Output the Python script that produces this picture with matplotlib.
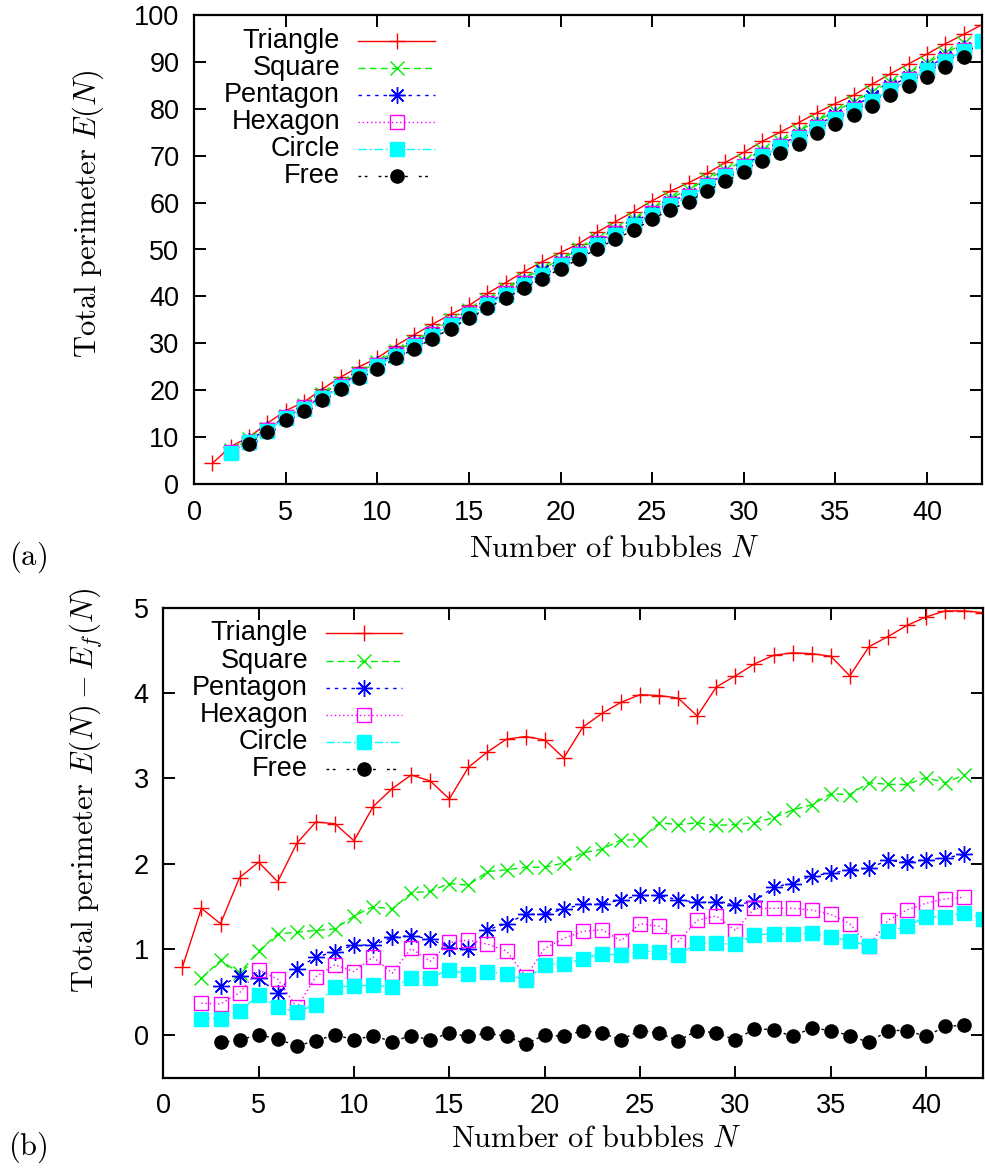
import numpy as np
import matplotlib
matplotlib.use("Agg")
import matplotlib.pyplot as plt

# E_f(N): reference perimeter, N = 1..43
N_ALL = list(range(1, 44))
EF_TOP = [3.6, 6.5, 8.7, 11.1, 13.6, 15.7, 18.0, 20.3, 22.5, 24.6, 26.8,
          28.9, 31.0, 33.2, 35.3, 37.5, 39.6, 41.8, 43.9, 45.9, 48.0, 50.1,
          52.2, 54.2, 56.4, 58.5, 60.3, 62.5, 64.5, 66.5, 68.7, 70.6, 72.6,
          74.7, 76.7, 78.7, 80.7, 82.8, 84.8, 86.8, 88.9, 90.9, 93.0]

# E(N) - E_f(N)
N_TRI = list(range(1, 44))
TRI = [0.79, 1.48, 1.30, 1.84, 2.02, 1.79, 2.24, 2.49, 2.47, 2.27, 2.67,
       2.88, 3.04, 2.97, 2.76, 3.13, 3.31, 3.46, 3.49, 3.45, 3.24, 3.60,
       3.76, 3.89, 3.98, 3.97, 3.94, 3.73, 4.07, 4.20, 4.34, 4.44, 4.47,
       4.46, 4.43, 4.20, 4.54, 4.66, 4.79, 4.89, 4.96, 4.96, 4.94]

N_SQU = list(range(2, 43))
SQU = [0.66, 0.87, 0.72, 0.98, 1.18, 1.20, 1.22, 1.24, 1.39, 1.50, 1.47,
       1.66, 1.68, 1.77, 1.75, 1.91, 1.93, 1.96, 1.96, 2.01, 2.13, 2.17,
       2.28, 2.28, 2.48, 2.46, 2.48, 2.45, 2.46, 2.48, 2.54, 2.63, 2.69,
       2.82, 2.81, 2.95, 2.93, 2.93, 3.01, 2.95, 3.04]

N_PEN = list(range(3, 43))
PEN = [0.57, 0.69, 0.66, 0.49, 0.77, 0.91, 0.97, 1.05, 1.05, 1.14, 1.16,
       1.12, 1.02, 1.00, 1.23, 1.30, 1.41, 1.41, 1.47, 1.53, 1.53, 1.58,
       1.63, 1.63, 1.58, 1.55, 1.55, 1.52, 1.56, 1.73, 1.77, 1.86, 1.89,
       1.93, 1.95, 2.04, 2.02, 2.05, 2.07, 2.11]

N_HEX = list(range(2, 43))
HEX = [0.37, 0.36, 0.49, 0.76, 0.65, 0.32, 0.68, 0.82, 0.74, 0.91, 0.72,
       1.01, 0.86, 1.08, 1.11, 1.06, 0.98, 0.68, 1.01, 1.13, 1.21, 1.23,
       1.10, 1.30, 1.27, 1.09, 1.34, 1.39, 1.22, 1.48, 1.48, 1.48, 1.46,
       1.41, 1.30, 1.04, 1.34, 1.46, 1.54, 1.59, 1.61]

N_CIR = list(range(2, 44))
CIR = [0.19, 0.19, 0.28, 0.46, 0.32, 0.27, 0.35, 0.56, 0.57, 0.58, 0.56,
       0.66, 0.67, 0.76, 0.71, 0.74, 0.71, 0.64, 0.82, 0.83, 0.89, 0.95,
       0.93, 0.98, 0.97, 0.93, 1.07, 1.07, 1.06, 1.17, 1.18, 1.18, 1.19,
       1.15, 1.10, 1.04, 1.21, 1.27, 1.38, 1.38, 1.43, 1.36]

N_FREE = list(range(3, 43))
FREE = [-0.09, -0.06, 0.00, -0.05, -0.13, -0.07, 0.00, -0.06, -0.01, -0.08,
        -0.01, -0.06, 0.02, -0.02, 0.02, -0.02, -0.11, 0.00, -0.02, 0.05,
        0.02, -0.06, 0.05, 0.02, -0.07, 0.05, 0.02, -0.06, 0.07, 0.06,
        -0.02, 0.08, 0.05, -0.01, -0.09, 0.05, 0.05, -0.02, 0.10, 0.11]

LABELS = ["Triangle", "Square", "Pentagon", "Hexagon", "Circle", "Free"]

plt.rcParams["mathtext.fontset"] = "cm"
plt.rcParams["font.family"] = ["Liberation Sans", "DejaVu Sans"]
plt.rcParams["lines.scale_dashes"] = False

W, H = 985, 1168
SANS = 19.5
LAB = 22

# line style, marker, colour per series (gnuplot look)
STYLES = [
    dict(color="#ff0000", ls="-", marker="+", ms=12, mew=1.0, mfc="none"),
    dict(color="#00ee00", ls=(0, (5, 3)), marker="x", ms=10, mew=1.0, mfc="none"),
    dict(color="#0000ff", ls=(0, (2.5, 3.5)), marker=(8, 2, 0), ms=12, mew=1.0, mfc="none"),
    dict(color="#ff00ff", ls=(0, (1, 2)), marker="s", ms=9.5, mew=1.0, mfc="none"),
    dict(color="#00ffff", ls=(0, (6, 2.2, 1.2, 2.2)), marker="s", ms=10.5, mew=1.0, mfc="#00ffff"),
    dict(color="#000000", ls=(0, (2, 2.5, 2, 8)), marker="o", ms=9.5, mew=1.0, mfc="#000000"),
]


def px_to_fig(x, y):
    return x / W, 1 - y / H


def draw(ax, xs, ys, st):
    ax.plot(xs, ys, color=st["color"], linestyle=st["ls"], linewidth=1.0,
            marker=st["marker"], markersize=st["ms"], markeredgewidth=st["mew"],
            markerfacecolor=st["mfc"], markeredgecolor=st["color"])


def legend(fig, x_text, x0, x1, rows):
    for lab, st, y in zip(LABELS, STYLES, rows):
        fx, fy = px_to_fig(x_text, y)
        fig.text(fx, fy, lab, ha="right", va="center", fontsize=SANS)
        a, fy = px_to_fig(x0, y)
        b, _ = px_to_fig(x1, y)
        m, _ = px_to_fig((x0 + x1) / 2, y)
        fig.add_artist(plt.Line2D([a, b], [fy, fy], transform=fig.transFigure,
                                  color=st["color"], linestyle=st["ls"], linewidth=1.0))
        fig.add_artist(plt.Line2D([m], [fy], transform=fig.transFigure,
                                  color=st["color"], linestyle="none", marker=st["marker"],
                                  markersize=st["ms"], markeredgewidth=st["mew"],
                                  markerfacecolor=st["mfc"], markeredgecolor=st["color"]))


def style_axes(ax):
    for s in ax.spines.values():
        s.set_linewidth(1.6)
    ax.tick_params(direction="in", length=8.5, width=1.4, top=True, right=True,
                   labelsize=SANS)
    ax.tick_params(axis="x", pad=11.5)
    ax.tick_params(axis="y", pad=10.5)
    ax.set_xlim(0, 43)
    ax.set_xticks(range(0, 45, 5))


fig = plt.figure(figsize=(W / 100, H / 100), dpi=100)

# panel (a)
ax1 = fig.add_axes([194 / W, 1 - 484 / H, 788 / W, 469 / H])
ef = dict(zip(N_ALL, EF_TOP))
series = [(N_TRI, TRI), (N_SQU, SQU), (N_PEN, PEN), (N_HEX, HEX), (N_CIR, CIR), (N_FREE, FREE)]
for (ns, d), st in zip(series, STYLES):
    draw(ax1, ns, [ef[n] + v for n, v in zip(ns, d)], st)
style_axes(ax1)
ax1.set_ylim(0, 100)
ax1.set_yticks(range(0, 101, 10))
legend(fig, 340, 358, 435, [41, 68, 95, 122, 149, 176])

# panel (b)
ax2 = fig.add_axes([163.3 / W, 1 - 1077.5 / H, 820 / W, 470 / H])
for (ns, d), st in zip(series, STYLES):
    draw(ax2, ns, d, st)
style_axes(ax2)
ax2.set_ylim(-0.5, 5)
ax2.set_yticks(range(0, 6))
legend(fig, 308, 326, 402, [633, 661, 688, 715, 742, 769])

fig.text(*px_to_fig(88, 214), r"$\mathrm{Total\ perimeter}\ E(N)$", rotation=90,
         ha="center", va="center", fontsize=LAB)
fig.text(*px_to_fig(86, 790), r"$\mathrm{Total\ perimeter}\ E(N) - E_f(N)$", rotation=90,
         ha="center", va="center", fontsize=LAB)
fig.text(*px_to_fig(614, 549), r"$\mathrm{Number\ of\ bubbles}\ N$",
         ha="center", va="center", fontsize=LAB)
fig.text(*px_to_fig(596, 1139), r"$\mathrm{Number\ of\ bubbles}\ N$",
         ha="center", va="center", fontsize=LAB)
fig.text(*px_to_fig(28, 557), r"$\mathrm{(a)}$", ha="center", va="center", fontsize=LAB)
fig.text(*px_to_fig(28, 1147), r"$\mathrm{(b)}$", ha="center", va="center", fontsize=LAB)

fig.savefig("out.png", dpi=100)
